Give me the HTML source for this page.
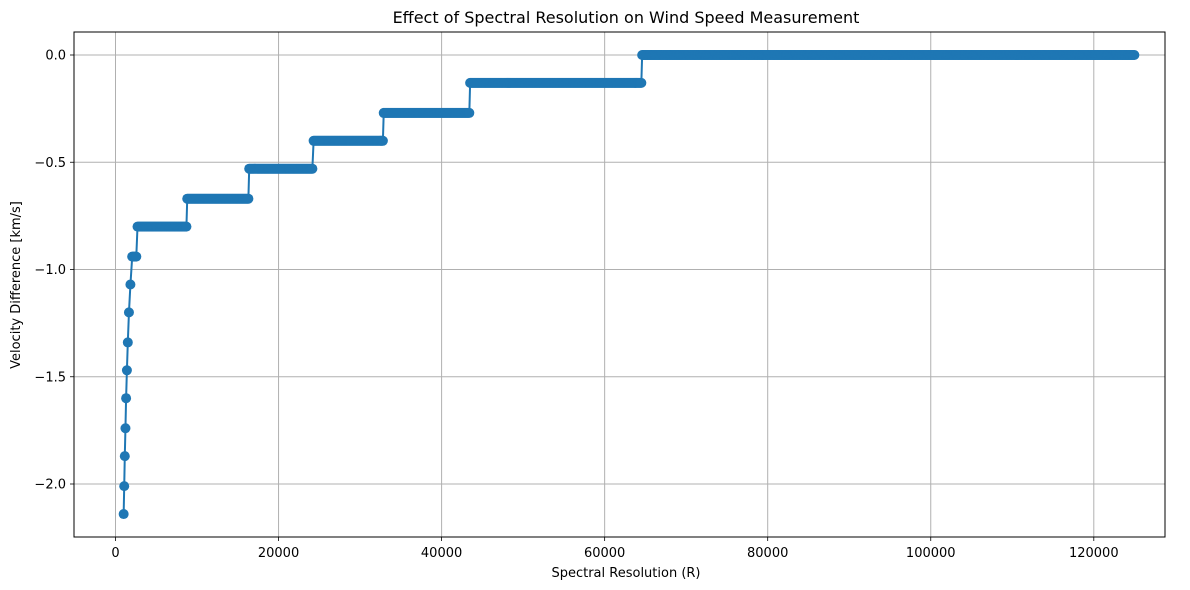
<!DOCTYPE html>
<html><head><meta charset="utf-8"><style>
html,body{margin:0;padding:0;background:#fff;}
svg{display:block;font-family:"DejaVu Sans","Liberation Sans",sans-serif;}
</style></head><body>
<svg id="chart" width="1190" height="590" viewBox="0 0 1190 590" xmlns="http://www.w3.org/2000/svg">
<rect width="1190" height="590" fill="#fff"/>
<g id="grid"></g>
<g id="series"></g>
<rect x="74" y="32" width="1091" height="505" fill="none" stroke="#000" stroke-width="1"/>
<g id="axes"></g>
<text x="626" y="23" text-anchor="middle" font-size="16">Effect of Spectral Resolution on Wind Speed Measurement</text>
<text x="626" y="577" text-anchor="middle" font-size="13">Spectral Resolution (R)</text>
<text transform="translate(20,285) rotate(-90)" text-anchor="middle" font-size="13">Velocity Difference [km/s]</text>
</svg>
<script>
// individual early points
const pointR = [1000,1070,1140,1220,1300,1400,1510,1650,1830];
const pointV = [-2.14,-2.01,-1.87,-1.74,-1.60,-1.47,-1.34,-1.20,-1.07];
// plateaus
const plateauStart = [2050,2700,8800,16400,24300,32900,43500,64600];
const plateauEnd   = [2600,8700,16300,24200,32800,43400,64500,125000];
const plateauV     = [-0.94,-0.80,-0.67,-0.53,-0.40,-0.27,-0.13,0.0];
const xTicks = [0,20000,40000,60000,80000,100000,120000];
const yTicks = [0,-0.5,-1.0,-1.5,-2.0];

const NS="http://www.w3.org/2000/svg";
function X(r){return 115.5 + r*0.0081525;}
function Y(v){return 55 - v*214.5;}
function mk(tag,attrs,parent){const e=document.createElementNS(NS,tag);for(const k in attrs)e.setAttribute(k,attrs[k]);parent.appendChild(e);return e;}
const grid=document.getElementById('grid'),axes=document.getElementById('axes'),series=document.getElementById('series');
xTicks.forEach(t=>{
  const l=mk('line',{x1:X(t),x2:X(t),y1:32,y2:537,stroke:'#b0b0b0','stroke-width':1},grid);
  
  
  mk('line',{x1:X(t),x2:X(t),y1:537,y2:541,stroke:'#000','stroke-width':0.8},axes);
  const tx=mk('text',{x:X(t),y:557,'text-anchor':'middle','font-size':13},axes);
  tx.textContent=String(t);
  
  
});
yTicks.forEach(t=>{
  const l=mk('line',{x1:74,x2:1165,y1:Y(t),y2:Y(t),stroke:'#b0b0b0','stroke-width':1},grid);
  
  
  mk('line',{x1:70,x2:74,y1:Y(t),y2:Y(t),stroke:'#000','stroke-width':0.8},axes);
  const tx=mk('text',{x:66,y:Y(t)+4.5,'text-anchor':'end','font-size':13},axes);
  tx.textContent=(t===0?'0.0':t.toFixed(1).replace('-','\u2212'));
  
  
});
const pts=[];
pointR.forEach((r,i)=>pts.push([r,pointV[i]]));
plateauStart.forEach((s,i)=>{for(let r=s;r<=plateauEnd[i];r+=125)pts.push([r,plateauV[i]]);});
const line=mk('polyline',{points:pts.map(p=>X(p[0]).toFixed(2)+','+Y(p[1]).toFixed(2)).join(' '),fill:'none',stroke:'#1f77b4','stroke-width':2},series);


pts.forEach(p=>{
  const c=mk('circle',{cx:X(p[0]).toFixed(2),cy:Y(p[1]).toFixed(2),r:5,fill:'#1f77b4'},series);
  
  
});
</script>
</body></html>
